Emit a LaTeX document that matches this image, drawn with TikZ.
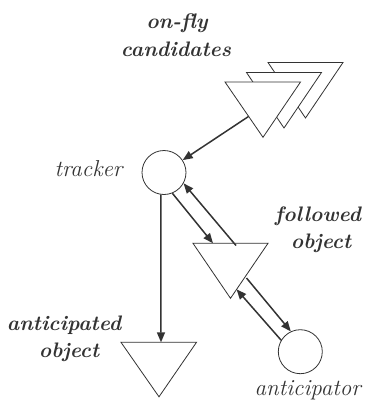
\documentclass[tikz,border=0pt]{standalone}
\usepackage{fontspec}
\usetikzlibrary{arrows.meta}
\definecolor{ink}{HTML}{333333}
\begin{document}
\begin{tikzpicture}[x=1pt,y=-1pt,
  shapeline/.style={draw=ink,line width=0.8pt,fill=white},
  ball/.style={circle,draw=ink,line width=0.8pt,fill=white,minimum size=44pt,inner sep=0pt},
  link/.style={draw=ink,line width=1.5pt,-{Triangle[length=10pt,width=8pt]}},
  lab/.style={text=ink,font=\fontsize{23}{28}\selectfont\itshape,anchor=base,inner sep=0pt},
  blab/.style={lab,font=\fontsize{21}{28}\selectfont\bfseries\itshape}]
\useasboundingbox (0,0) rectangle (367,407);
% on-fly candidates (three stacked triangles)
\draw[shapeline] (268,62.5) -- (343,62.5) -- (305.5,118) -- cycle;
\draw[shapeline] (246.5,72.5) -- (321.5,72.5) -- (284,128) -- cycle;
\draw[shapeline] (225,82) -- (300.5,82) -- (263,137.3) -- cycle;
% followed object
\draw[shapeline] (193,243.3) -- (268,243.3) -- (230.5,298.3) -- cycle;
% anticipated object
\draw[shapeline] (121,342.3) -- (196.5,342.3) -- (159,396.8) -- cycle;
% circles
\node[ball] (tracker) at (164,172.5) {};
\node[ball] (anticipator) at (300.3,351.7) {};
% connector ends on the triangles
\coordinate (cand) at (248.5,116.5);
\coordinate (follin) at (213,243.3);
\coordinate (follout) at (236,245.5);
\coordinate (follright) at (246.5,278);
\coordinate (follrightin) at (236.5,289.3);
\coordinate (antin) at (161,342.3);
% connectors
\draw[link] (cand) -- (tracker);
\draw[link] (tracker.-68) -- (follin);
\draw[link] (follout) -- (tracker.-29);
\draw[link] (follright) -- (anticipator.115);
\draw[link] (anticipator.149) -- (follrightin);
\draw[link] (tracker.-98) -- (antin);
% labels
\node[blab] (onfly) at (177,28) {on-fly};
\node[blab] (cands) at (176,56.5) {candidates};
\node[lab] (trk) at (88.5,176.7) {tracker};
\node[blab] (fol1) at (318,221.7) {followed};
\node[blab] (fol2) at (321,248) {object};
\node[blab] (ant1) at (64,330) {anticipated};
\node[blab] (ant2) at (69,357.5) {object};
\node[lab] (antr) at (307.7,395) {anticipator};
\end{tikzpicture}
\end{document}
